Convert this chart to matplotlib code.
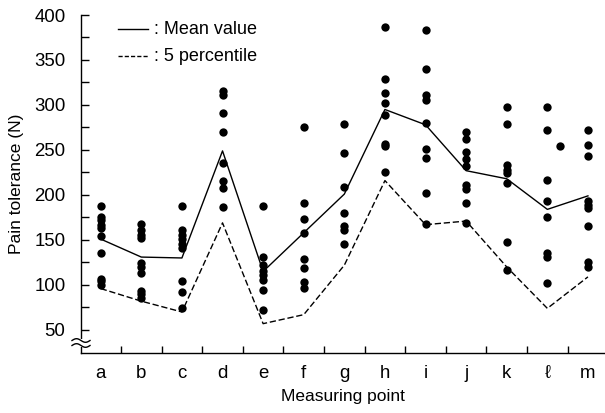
import matplotlib
matplotlib.use("Agg")
import matplotlib.pyplot as plt
import numpy as np

plt.rcParams['font.family'] = ['Liberation Sans', 'DejaVu Sans']

# Measuring points
points = ['a', 'b', 'c', 'd', 'e', 'f', 'g', 'h', 'i', 'j', 'k', 'ℓ', 'm']

# Individual pain tolerance measurements (N) per measuring point
measurements = [
    [188, 176, 172, 167, 163, 154, 136, 107, 104, 100],
    [168, 161, 156, 152, 124, 120, 113, 93, 90, 86],
    [188, 161, 156, 151, 146, 141, 104, 92, 74],
    [316, 311, 291, 270, 236, 216, 208, 187],
    [188, 131, 122, 116, 111, 105, 94, 72],
    [275, 191, 173, 158, 129, 119, 103, 97],
    [279, 247, 209, 180, 165, 161, 145],
    [387, 329, 313, 302, 289, 257, 254, 226],
    [383, 340, 311, 306, 280, 251, 241, 202, 168],
    [270, 262, 248, 240, 232, 211, 207, 191, 169],
    [298, 279, 233, 228, 224, 213, 148, 117],
    [298, 272, 217, 193, 175, 135, 131, 102],
    [272, 256, 243, 193, 189, 185, 166, 126, 120],
]
# One reading plotted slightly right of point ℓ
extra_pos = [11.3]
extra_val = [254]

mean_values = [151, 131, 130, 249, 115, 158, 201, 295, 278, 227, 218, 184, 199]
percentile5 = [96, 82, 70, 169, 57, 67, 122, 216, 167, 171, 120, 74, 109]

W, H = 605, 413
fig = plt.figure(figsize=(W / 100, H / 100), dpi=100)
ax = fig.add_axes([80.7 / W, 1 - 353 / H, 1 - 80.7 / W, (353 - 15) / H])

x = np.arange(len(points))
for xi, vals in zip(x, measurements):
    ax.plot([xi] * len(vals), vals, 'o', color='black', markersize=6,
            markeredgewidth=0, zorder=3)
ax.plot(extra_pos, extra_val, 'o', color='black', markersize=6,
        markeredgewidth=0, zorder=3)

ax.plot(x, mean_values, '-', color='black', linewidth=1.0, zorder=2)
ax.plot(x, percentile5, color='black', linewidth=1.0, zorder=2,
        linestyle=(0, (4.5, 2)))

ax.set_xlim(-0.493, 12.42)
ax.set_ylim(24.4, 400)

ax.spines['top'].set_visible(False)
ax.spines['right'].set_visible(False)
ax.spines['left'].set_linewidth(1.0)
ax.spines['bottom'].set_linewidth(1.0)

ax.set_yticks(np.arange(50, 401, 50))
ax.set_yticks(np.arange(75, 401, 50), minor=True)
ax.tick_params(axis='y', which='both', direction='in', length=6, width=1.0,
               labelsize=13.4, pad=11)

ax.set_xticks(x)
ax.set_xticklabels(points)
ax.set_xticks(np.arange(0.5, 12.5, 1), minor=True)
ax.tick_params(axis='x', which='major', length=0, labelsize=13.4, pad=9)
ax.tick_params(axis='x', which='minor', direction='in', length=5, width=1.0)

ax.set_ylabel('Pain tolerance (N)', fontsize=12.5, labelpad=7)
ax.set_xlabel('Measuring point', fontsize=12.5, labelpad=5)

# Axis break mark on the y axis
fx = lambda px: px / W
fy = lambda py: 1 - py / H
fig.patches.append(plt.Rectangle((fx(77), fy(347)), fx(8), 8 / H,
                                 transform=fig.transFigure,
                                 facecolor='white', edgecolor='none',
                                 zorder=5))
t = np.linspace(0, 1, 40)
for off in (340.5, 345.5):
    xs = 72 + 18 * t
    ys = off - 1.8 * np.sin(2 * np.pi * t)
    fig.add_artist(plt.Line2D(fx(xs), fy(ys), color='black', linewidth=1.0,
                              transform=fig.transFigure, zorder=6))

# Key
ax.plot([0.43, 1.17], [384.4, 384.4], '-', color='black', linewidth=1.0,
        clip_on=False)
ax.text(1.3, 384.4, ': Mean value', fontsize=13, va='center', ha='left')
ax.plot([0.43, 1.17], [354.4, 354.4], color='black', linewidth=1.0,
        linestyle=(0, (3, 1.5)), clip_on=False)
ax.text(1.3, 354.4, ': 5 percentile', fontsize=13, va='center', ha='left')

fig.savefig('out.png', dpi=100)
